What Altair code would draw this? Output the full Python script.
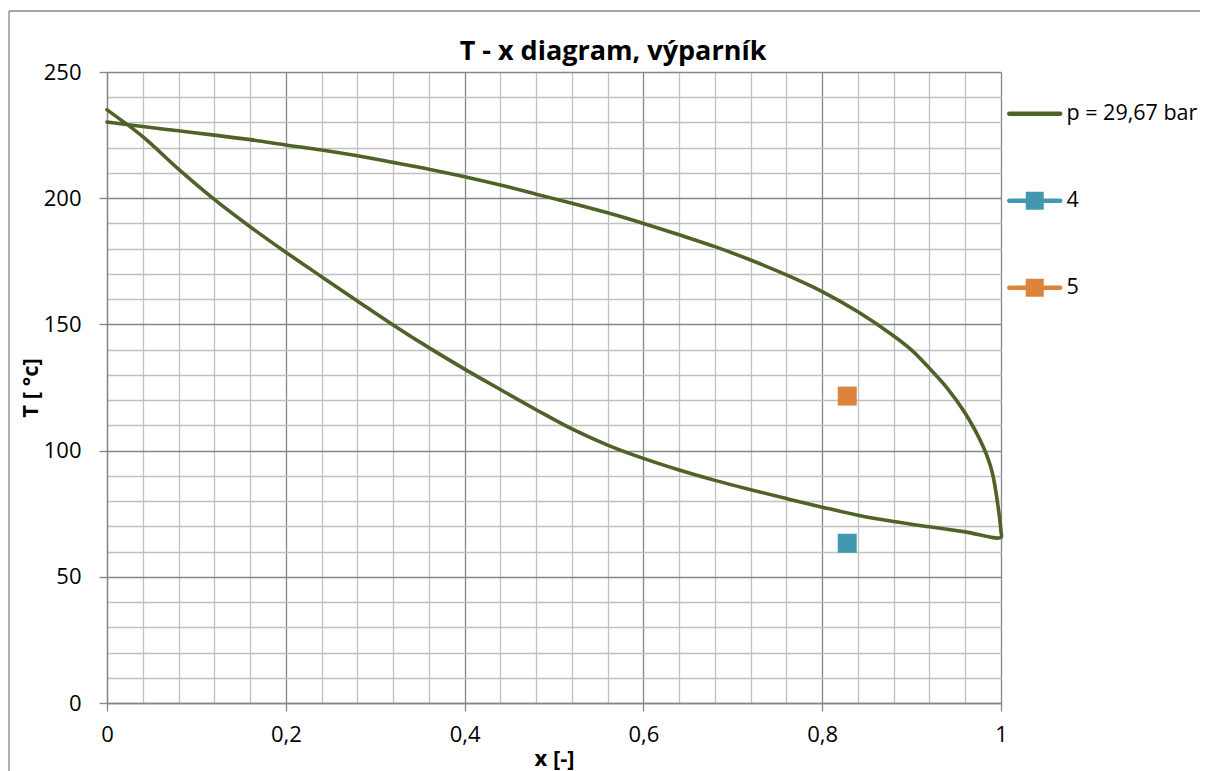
import altair as alt
import pandas as pd

# ---- data ----
x_lower = [0, 0.04, 0.08, 0.12, 0.16, 0.2, 0.24, 0.28, 0.32, 0.36, 0.4, 0.44, 0.48,
           0.52, 0.56, 0.6, 0.64, 0.68, 0.72, 0.76, 0.8, 0.84, 0.88, 0.92, 0.96, 1.0]
T_lower = [235.0, 224.4, 211.5, 199.5, 188.7, 178.6, 168.9, 159.3, 149.8, 140.8, 132.3, 124.2, 116.2,
           108.6, 102.2, 96.9, 92.3, 88.2, 84.5, 81.0, 77.6, 74.4, 71.9, 69.8, 67.8, 65.6]
x_upper = [0, 0.04, 0.08, 0.12, 0.16, 0.2, 0.24, 0.28, 0.32, 0.36, 0.4, 0.44, 0.48, 0.52,
           0.56, 0.6, 0.64, 0.68, 0.72, 0.76, 0.8, 0.84, 0.88, 0.9, 0.92, 0.94, 0.96, 0.98, 0.99, 1.0]
T_upper = [230.2, 228.4, 226.7, 225.0, 223.2, 221.1, 219.1, 216.8, 214.2, 211.5, 208.5, 205.2, 201.6, 198.0,
           194.2, 190.0, 185.5, 180.8, 175.5, 169.6, 163.0, 155.0, 145.4, 139.8, 132.6, 124.7, 114.8, 101.6, 91.6, 67.9]

point_names = ["4", "5"]
point_x = [0.828, 0.828]
point_T = [63.3, 121.6]
point_colors = ["#4298b0", "#dd843c"]

series_names = ["p = 29,67 bar", "4", "5"]
series_colors = ["#4f6228", "#4298b0", "#dd843c"]

x_ticks = [0, 0.04, 0.08, 0.12, 0.16, 0.2, 0.24, 0.28, 0.32, 0.36, 0.4, 0.44, 0.48, 0.52,
           0.56, 0.6, 0.64, 0.68, 0.72, 0.76, 0.8, 0.84, 0.88, 0.92, 0.96, 1.0]
y_ticks = [0, 10, 20, 30, 40, 50, 60, 70, 80, 90, 100, 110, 120, 130, 140, 150, 160,
           170, 180, 190, 200, 210, 220, 230, 240, 250]

title_text = "T - x diagram, výparník"
x_title = "x [-]"
y_title = "T [ °c]"

# ---- tables ----
curve_x = x_lower + x_upper[::-1]
curve_T = T_lower + T_upper[::-1]
curve = pd.DataFrame({"x": curve_x, "T": curve_T, "order": list(range(len(curve_x))),
                      "series": series_names[0]})
points = pd.DataFrame({"x": point_x, "T": point_T, "series": point_names})

FONT = "Open Sans"
MAJOR = "#868686"
MINOR = "#c0c0c0"

major_x = "abs(datum.value*5 - round(datum.value*5)) < 0.000001"
major_y = "datum.value % 50 === 0"

x_axis = alt.Axis(
    values=x_ticks, grid=True,
    gridColor={"condition": {"test": major_x, "value": MAJOR}, "value": MINOR},
    gridWidth=1.3,
    tickColor=MAJOR, tickWidth=1.3, tickSize=8,
    tickOpacity={"condition": {"test": major_x, "value": 1}, "value": 0},
    domainColor=MAJOR, domainWidth=1.3,
    labelExpr=f"({major_x}) ? replace(format(datum.value, '~g'), '.', ',') : ''",
    labelFont=FONT, labelFontSize=22, labelColor="black", labelPadding=23,
    labelBaseline="middle", labelFlush=False, labelOverlap=False,
    titleFont=FONT, titleFontSize=22, titleFontWeight="bold", titleColor="black",
    titleY=55, titleBaseline="middle",
)
y_axis = alt.Axis(
    values=y_ticks, grid=True,
    gridColor={"condition": {"test": major_y, "value": MAJOR}, "value": MINOR},
    gridWidth=1.3,
    tickColor=MAJOR, tickWidth=1.3, tickSize=8,
    tickOpacity={"condition": {"test": major_y, "value": 1}, "value": 0},
    domainColor=MAJOR, domainWidth=1.3,
    labelExpr=f"({major_y}) ? datum.label : ''",
    labelFont=FONT, labelFontSize=22, labelColor="black", labelPadding=18,
    labelFlush=False, labelOverlap=False,
    titleFont=FONT, titleFontSize=22, titleFontWeight="bold", titleColor="black",
    titleX=-77, titleY=315.5, titleBaseline="middle", titleAngle=270,
)

x_enc = alt.X("x:Q", scale=alt.Scale(domain=[0, 1], nice=False), axis=x_axis, title=x_title)
y_enc = alt.Y("T:Q", scale=alt.Scale(domain=[0, 250], nice=False), axis=y_axis, title=y_title)

# legend symbols: line only / line with square (custom paths in unit box)
line_sym = ("M-2.84,-0.24 L2.84,-0.24 A0.24,0.24 0 0 1 2.84,0.24 "
            "L-2.84,0.24 A0.24,0.24 0 0 1 -2.84,-0.24 Z")
combo_sym = ("M-2.84,-0.24 L-1,-0.24 L-1,-1 L1,-1 L1,-0.24 L2.84,-0.24 "
             "A0.24,0.24 0 0 1 2.84,0.24 L1,0.24 L1,1 L-1,1 L-1,0.24 L-2.84,0.24 "
             "A0.24,0.24 0 0 1 -2.84,-0.24 Z")
symbol_paths = [line_sym, combo_sym, combo_sym]

legend = alt.Legend(
    orient="none", legendX=917, legendY=31, title=None,
    symbolSize=324, symbolStrokeWidth=0, symbolOpacity=1,
    labelFont=FONT, labelFontSize=21.5, labelColor="black", labelOffset=21,
    labelLimit=400, rowPadding=64, padding=0,
)

# outer chart frame (only the top and left edges fall inside the picture)
frame_df = pd.DataFrame({"a": [0]})
frame_top = alt.Chart(frame_df).mark_rule(color=MAJOR, strokeWidth=1.3).encode(
    x=alt.value(-98), x2=alt.value(1200), y=alt.value(-61))
frame_left = alt.Chart(frame_df).mark_rule(color=MAJOR, strokeWidth=1.3).encode(
    x=alt.value(-98), y=alt.value(-61), y2=alt.value(900))

line = alt.Chart(curve).mark_line(
    color=series_colors[0], strokeWidth=3.6, strokeJoin="round", strokeCap="round",
    interpolate="catmull-rom"
).encode(x=x_enc, y=y_enc, order="order:Q")

markers = alt.Chart(points).mark_square(size=361, opacity=1).encode(
    x=x_enc, y=y_enc,
    fill=alt.Fill("series:N", scale=alt.Scale(domain=point_names, range=point_colors), legend=None),
)

legend_layer = alt.Chart(points).mark_point(filled=True, opacity=0).encode(
    x=x_enc, y=y_enc,
    color=alt.Color("series:N", scale=alt.Scale(domain=series_names, range=series_colors), legend=legend),
    shape=alt.Shape("series:N", scale=alt.Scale(domain=series_names, range=symbol_paths), legend=legend),
)

chart = alt.layer(frame_top, frame_left, line, markers, legend_layer).properties(
    width=894, height=631,
    padding={"left": 99, "top": 64, "right": 199, "bottom": 68},
    autosize=alt.AutoSizeParams(type="none"),
    title=alt.Title(title_text, font=FONT, fontSize=27, fontWeight="bold", color="black",
                    anchor="middle", dx=59, offset=-76.6, baseline="alphabetic"),
).configure_view(strokeOpacity=0).configure(font=FONT)

chart.save("out.html", embed_options={"renderer": "svg", "actions": False})
